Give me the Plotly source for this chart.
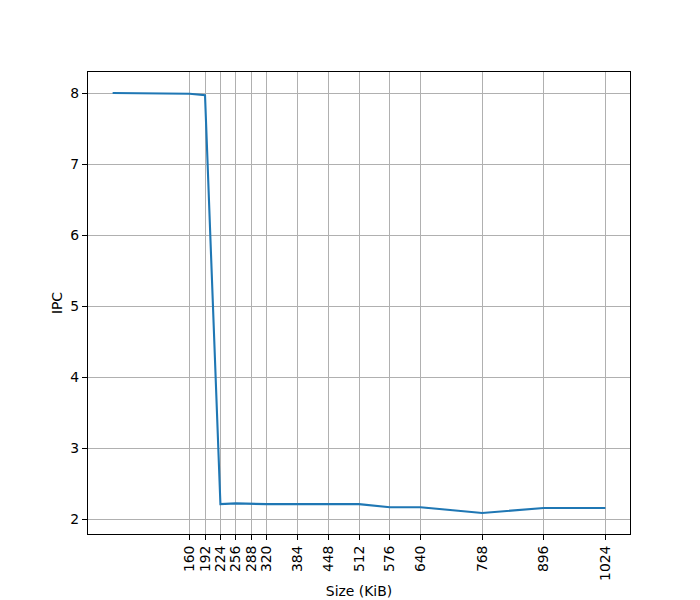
import plotly.graph_objects as go

sizes_kib = [0, 32, 64, 96, 128, 160, 192, 224, 256, 288, 320, 384, 448, 512, 576, 640, 768, 896, 1024]
ipc = [8.0, 8.0, 8.0, 8.0, 8.0, 7.99, 7.97, 2.215, 2.225, 2.215, 2.215, 2.215, 2.215, 2.215, 2.17, 2.17, 2.09, 2.16, 2.16]
tick_vals = [160, 192, 224, 256, 288, 320, 384, 448, 512, 576, 640, 768, 896, 1024]
y_ticks = [2, 3, 4, 5, 6, 7, 8]

xmin, xmax = min(sizes_kib), max(sizes_kib)
ymin, ymax = min(ipc), max(ipc)
xpad = 0.05 * (xmax - xmin)
ypad = 0.05 * (ymax - ymin)

font = dict(family="DejaVu Sans", size=13.9, color="black")

fig = go.Figure()
fig.add_trace(go.Scatter(x=sizes_kib, y=ipc, mode="lines",
                         line=dict(color="#1f77b4", width=2.1), showlegend=False))

axis_common = dict(showline=True, linecolor="black", linewidth=1.1, mirror=True,
                   ticks="outside", ticklen=5, tickwidth=1.1, tickcolor="black",
                   showgrid=True, gridcolor="#b0b0b0", gridwidth=1.1,
                   zeroline=False, tickfont=font, automargin=False)

fig.update_xaxes(range=[xmin - xpad, xmax + xpad], tickvals=tick_vals,
                 ticktext=[str(v) for v in tick_vals], tickangle=-90,
                 title=dict(text="Size (KiB)", font=font, standoff=6), **axis_common)
fig.update_yaxes(range=[ymin - ypad, ymax + ypad], tickvals=y_ticks,
                 title=dict(text="IPC", font=font, standoff=4), **axis_common)

fig.update_layout(width=700, height=600, plot_bgcolor="white", paper_bgcolor="white",
                  margin=dict(l=80, r=78, t=64, b=74), font=font)

fig.write_html("out.html")
